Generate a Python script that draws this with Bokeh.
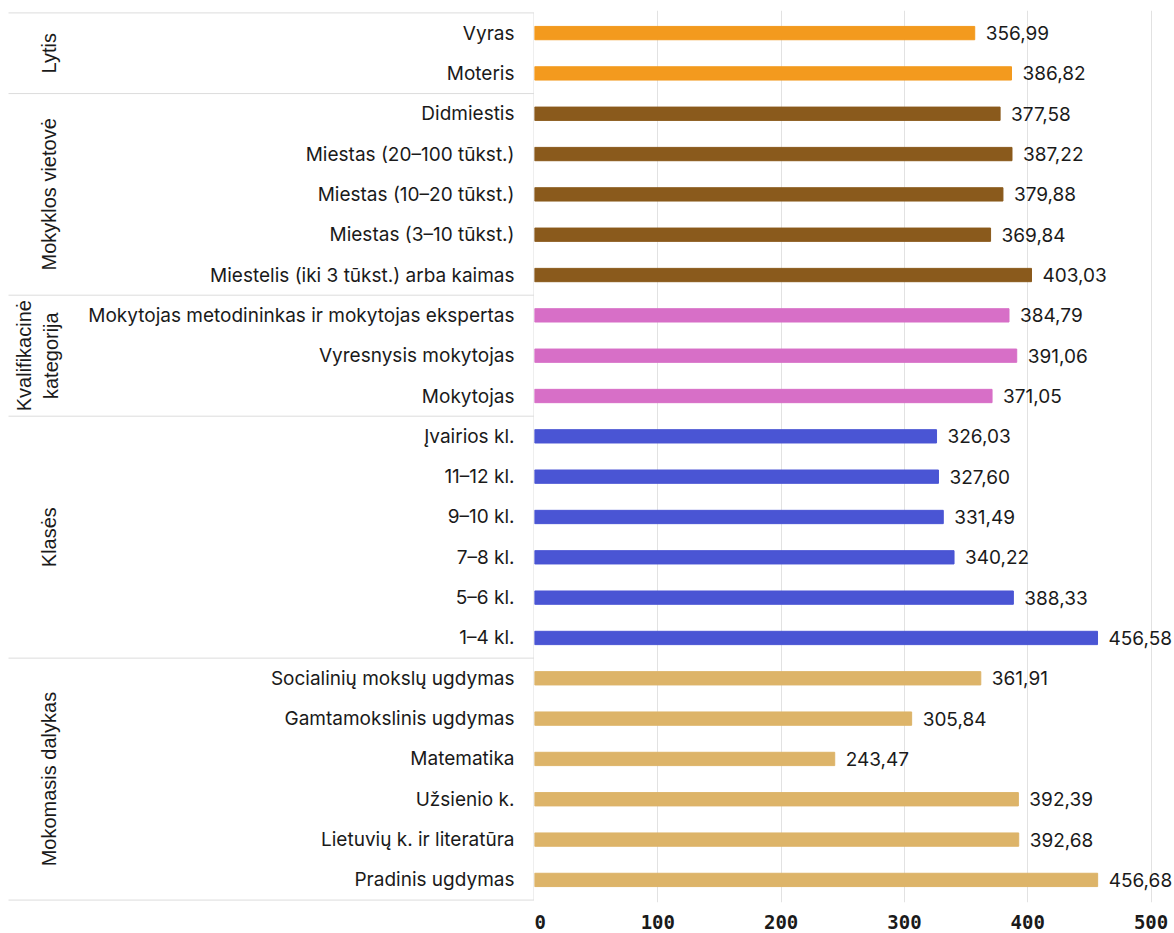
import math
from bokeh.plotting import figure
from bokeh.layouts import row
from bokeh.models import Range1d, FixedTicker, ColumnDataSource
from bokeh.core.properties import value
from bokeh.embed import file_html
from bokeh.resources import INLINE

# ---- data -------------------------------------------------------------
groups = ["Lytis", "Mokyklos vietovė", "Kvalifikacinė\nkategorija", "Klasės", "Mokomasis dalykas"]

lytis_labels = ["Vyras", "Moteris"]
lytis_values = [356.99, 386.82]

vietove_labels = ["Didmiestis", "Miestas (20–100 tūkst.)", "Miestas (10–20 tūkst.)",
                  "Miestas (3–10 tūkst.)", "Miestelis (iki 3 tūkst.) arba kaimas"]
vietove_values = [377.58, 387.22, 379.88, 369.84, 403.03]

kategorija_labels = ["Mokytojas metodininkas ir mokytojas ekspertas", "Vyresnysis mokytojas", "Mokytojas"]
kategorija_values = [384.79, 391.06, 371.05]

klases_labels = ["Įvairios kl.", "11–12 kl.", "9–10 kl.", "7–8 kl.", "5–6 kl.", "1–4 kl."]
klases_values = [326.03, 327.60, 331.49, 340.22, 388.33, 456.58]

dalykas_labels = ["Socialinių mokslų ugdymas", "Gamtamokslinis ugdymas", "Matematika",
                  "Užsienio k.", "Lietuvių k. ir literatūra", "Pradinis ugdymas"]
dalykas_values = [361.91, 305.84, 243.47, 392.39, 392.68, 456.68]

group_colors = ["#F39A1E", "#8A5A1C", "#D76FC7", "#4A55D4", "#DDB469"]
x_ticks = [0, 100, 200, 300, 400, 500]

# ---- table of rows -------------------------------------------------------
group_items = [
    (lytis_labels, lytis_values),
    (vietove_labels, vietove_values),
    (kategorija_labels, kategorija_values),
    (klases_labels, klases_values),
    (dalykas_labels, dalykas_values),
]

rows_label, rows_value, rows_color, rows_y = [], [], [], []
group_mid, group_start = [], []
idx = 0
for gi, (labs, vals) in enumerate(group_items):
    group_start.append(idx - 0.5)
    group_mid.append(idx + (len(labs) - 1) / 2)
    for lab, v in zip(labs, vals):
        rows_label.append(lab)
        rows_value.append(v)
        rows_color.append(group_colors[gi])
        rows_y.append(idx)
        idx += 1
n_rows = idx
group_start.append(n_rows - 0.5)

src = ColumnDataSource(dict(
    y=rows_y, v=rows_value, color=rows_color, label=rows_label,
    vtext=[f"{v:.2f}".replace(".", ",") for v in rows_value],
))

PAD = 0.06
TOP, BOTTOM = 10, 31
HEIGHT = 933
LEFT_W, RIGHT_W = 534, 640
LABEL_FONT = "Inter"
GROUP_FONT = "Liberation Sans"
FS = "19px"
TEXT_COLOR = "#1a1a1a"

y_range = Range1d(n_rows - 0.5 + PAD, -0.5 - PAD)

# ---- left panel: category and group labels ------------------------------
left = figure(width=LEFT_W, height=HEIGHT, x_range=Range1d(0, LEFT_W), y_range=y_range,
              output_backend="svg", toolbar_location=None,
              min_border_left=0, min_border_right=0, min_border_top=TOP, min_border_bottom=BOTTOM)
left.axis.visible = False
left.grid.visible = False
left.outline_line_color = None

left.text(x=514, y="y", text="label", source=src, text_align="right", text_baseline="middle",
          text_font=value(LABEL_FONT), text_font_size=FS, text_color=TEXT_COLOR)

sep_x0 = [8] * len(group_start)
sep_x1 = [LEFT_W] * len(group_start)
left.segment(x0=sep_x0, x1=sep_x1, y0=group_start, y1=group_start, line_color="#dcdcdc", line_width=1)
left.segment(x0=[LEFT_W - 0.5], x1=[LEFT_W - 0.5], y0=[group_start[0]], y1=[group_start[-1]],
             line_color="#dcdcdc", line_width=1)

gx = [37 if "\n" in g else 48 for g in groups]
left.text(x=gx, y=group_mid, text=groups, angle=math.pi / 2, text_align="center",
          text_baseline="middle", text_font=value(GROUP_FONT), text_font_size="20px",
          text_color=TEXT_COLOR)

# ---- right panel: bars ---------------------------------------------------
right = figure(width=RIGHT_W, height=HEIGHT, x_range=Range1d(0, 519), y_range=y_range,
               output_backend="svg", toolbar_location=None,
               min_border_left=0, min_border_right=0, min_border_top=TOP, min_border_bottom=BOTTOM)
right.outline_line_color = None
right.yaxis.visible = False
right.ygrid.visible = False
right.xgrid.grid_line_color = "#e2e2e2"
right.xgrid.ticker = FixedTicker(ticks=x_ticks)
right.xaxis.ticker = FixedTicker(ticks=x_ticks)
right.xaxis.axis_line_color = None
right.xaxis.major_tick_line_color = None
right.xaxis.minor_tick_line_color = None
right.xaxis.major_label_text_font = "DejaVu Sans Mono"
right.xaxis.major_label_text_font_size = "19px"
right.xaxis.major_label_text_font_style = "bold"
right.xaxis.major_label_text_color = TEXT_COLOR
right.xaxis.major_label_standoff = 6

right.hbar(y="y", left=0, right="v", height=0.33, color="color", source=src)
right.text(x="v", y="y", text="vtext", source=src, x_offset=11, text_baseline="middle",
           text_font=value(LABEL_FONT), text_font_size=FS, text_color=TEXT_COLOR)

layout = row(left, right, spacing=0)
open("out.html", "w").write(file_html(layout, INLINE))
